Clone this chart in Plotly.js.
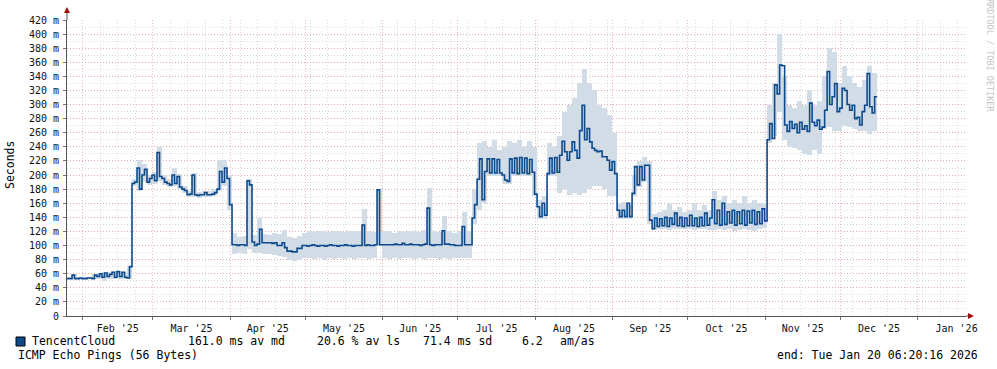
<!DOCTYPE html>
<html>
<head>
<meta charset="utf-8">
<script src="https://cdn.plot.ly/plotly-3.0.1.min.js"></script>
<style>html,body{margin:0;padding:0;background:#fff;}#chart{width:997px;height:369px;}</style>
</head>
<body>
<div id="chart"></div>
<script>
// ---- data ----
const rangeStart = '2025-01-25 17:17:00';
const rangeEnd = '2026-01-20 06:20:16';
const dataStart = '2025-01-25T17:17:00Z';   // first daily median step
const medianStepDays = 1;
const smokeStepDays = 2;

// daily median RTT (ms)
const medianMs = [
  53,53,58,53,53,54,53,53,54,54,
  53,58,56,60,55,61,56,59,62,55,
  63,56,62,55,54,70,188,190,210,180,
  200,208,190,195,200,192,232,198,195,190,
  188,186,200,188,198,183,180,178,172,173,
  200,172,171,172,172,175,172,172,173,175,
  180,205,190,210,195,158,101,101,100,101,
  101,100,192,186,105,100,102,123,104,104,
  104,104,103,104,100,100,104,97,92,92,
  91,91,96,96,100,100,99,100,101,100,
  99,100,100,99,100,101,100,100,99,100,
  100,101,100,100,99,100,100,100,129,100,
  101,100,100,101,179,101,101,101,101,101,
  101,102,101,101,103,101,101,102,101,101,
  101,100,101,102,153,101,100,101,101,101,
  121,102,102,101,101,100,100,100,127,101,
  101,101,139,158,194,223,165,205,223,203,
  223,203,222,203,200,193,191,223,203,224,
  202,225,203,224,202,222,204,173,155,141,
  160,143,202,224,203,225,204,228,248,233,
  221,233,247,235,224,263,299,250,266,247,
  238,235,233,234,226,226,221,207,219,202,
  150,141,150,141,160,141,174,212,186,212,
  193,214,214,136,124,139,127,138,128,140,
  127,139,130,146,128,140,127,139,128,143,
  128,139,127,140,128,146,129,139,165,131,
  150,129,160,130,148,132,150,129,148,131,
  150,129,149,132,150,130,148,131,152,135,
  250,273,252,328,315,356,355,271,262,276,
  266,272,260,275,265,270,262,302,275,270,
  278,265,268,292,347,300,311,330,290,295,
  323,320,300,292,299,280,282,271,290,299,
  344,297,288,311
];

// smoke band (2-day bins): lowest and highest ping (ms)
const smokeLowMs = [
  52,52,52,52,52,52,53,50,52,52,
  52,53,53,185,178,190,186,188,192,186,
  183,185,180,175,169,169,168,169,169,170,
  177,185,150,88,89,88,95,89,90,88,
  88,86,85,84,80,78,80,82,82,81,
  82,80,82,81,82,81,82,81,82,82,
  81,82,100,82,81,82,81,82,82,81,
  82,81,82,82,81,82,81,82,82,82,
  82,130,150,160,198,198,198,188,188,198,
  198,198,198,170,138,138,198,198,175,180,
  172,175,172,175,180,185,185,180,170,170,
  138,138,138,170,183,190,130,122,123,124,
  122,124,123,124,123,122,124,123,122,122,
  123,122,124,120,122,123,122,120,124,125,
  245,255,290,250,240,238,235,230,228,235,
  230,265,268,262,262,270,268,265,262,262,
  258,262
];
const smokeHighMs = [
  56,59,55,55,56,59,61,62,62,64,
  64,63,71,195,222,215,200,205,240,200,
  195,210,202,185,178,203,176,178,178,180,
  222,222,200,118,112,114,195,115,139,117,
  115,118,117,122,112,110,113,118,120,119,
  120,121,119,120,121,119,120,121,120,152,
  120,119,180,120,121,118,120,119,121,120,
  119,122,182,120,119,142,120,118,120,148,
  120,180,245,248,240,250,235,240,248,245,
  250,240,248,240,165,170,245,240,255,290,
  300,310,330,350,330,320,300,295,285,260,
  160,162,158,200,220,225,220,145,148,150,
  160,150,155,148,150,160,150,158,150,178,
  165,170,160,165,160,170,160,165,160,160,
  300,330,400,340,300,295,305,300,320,300,
  305,340,380,375,330,355,340,330,325,335,
  355,345
];

const yTickValues = [0,20,40,60,80,100,120,140,160,180,200,220,240,260,280,300,320,340,360,380,400,420];
const yTickLabels = yTickValues.map(v => v === 0 ? '0' : v + ' m');

const seriesName = 'TencentCloud';
const statValues = ['161.0 ms av md', '20.6 % av ls', '71.4 ms sd', '6.2', 'am/as'];
const footLeft = 'ICMP Echo Pings (56 Bytes)';
const footRight = 'end: Tue Jan 20 06:20:16 2026';

// ---- build ----
const DAY = 86400000;
const t0 = Date.parse(dataStart);
const fmt = t => new Date(t).toISOString().slice(0, 19).replace('T', ' ');

const medX = medianMs.map((_, i) => fmt(t0 + i * medianStepDays * DAY));
const medY = medianMs.slice();
// close the final step
medX.push(fmt(t0 + medianMs.length * medianStepDays * DAY));
medY.push(medianMs[medianMs.length - 1]);

const smokeX = smokeLowMs.map((_, i) => fmt(t0 + (i + 0.5) * smokeStepDays * DAY));
const smokeBase = smokeLowMs.slice();
const smokeH = smokeHighMs.map((h, i) => h - smokeLowMs[i]);

const FONT = 'DejaVu Sans Mono, monospace';
const lineColor = '#0c4a8c';
const smokeColor = '#d2dce7';

const traces = [
  {
    type: 'bar', x: smokeX, y: smokeH, base: smokeBase,
    width: smokeStepDays * DAY,
    marker: {color: smokeColor, line: {width: 0}},
    hoverinfo: 'skip', showlegend: false
  },
  {
    type: 'scatter', mode: 'lines', x: medX, y: medY,
    line: {shape: 'hv', color: lineColor, width: 1.6},
    hoverinfo: 'skip', showlegend: false
  }
];

const W = 899, H = 296, L = 67, T = 20;
const px = x => (x - L) / W;
const py = y => (T + H - y) / H;

function ann(text, x, y, opts) {
  return Object.assign({
    text: text, xref: 'paper', yref: 'paper', x: px(x), y: py(y),
    xanchor: 'left', yanchor: 'middle', showarrow: false,
    font: {family: FONT, size: 11.5, color: '#000'}
  }, opts || {});
}

const annotations = [
  ann(seriesName, 30, 341),
  ann(statValues[0], 186, 341),
  ann(statValues[1], 315, 341),
  ann(statValues[2], 420.7, 341),
  ann(statValues[3], 520, 341),
  ann(statValues[4], 558, 341),
  ann(footLeft, 16, 355),
  ann(footRight, 980, 355, {xanchor: 'right'}),
  ann('Seconds', 10, 165, {xanchor: 'center', textangle: -90}),
  ann('RRDTOOL / TOBI OETIKER', 990, 55, {xanchor: 'center', textangle: 90,
      font: {family: FONT, size: 8.5, color: '#c4c4c4'}})
];

const shapes = [
  {type: 'line', xref: 'paper', yref: 'paper', x0: 0, x1: 0, y0: 1, y1: py(12),
   line: {color: '#555', width: 1}},
  {type: 'path', xref: 'paper', yref: 'paper',
   path: `M ${px(64)},${py(13)} L ${px(70)},${py(13)} L ${px(67)},${py(7)} Z`,
   fillcolor: '#a01010', line: {width: 0}},
  {type: 'line', xref: 'paper', yref: 'paper', x0: 1, x1: px(970), y0: 0, y1: 0,
   line: {color: '#555', width: 1}},
  {type: 'path', xref: 'paper', yref: 'paper',
   path: `M ${px(968)},${py(313)} L ${px(968)},${py(319)} L ${px(974)},${py(316)} Z`,
   fillcolor: '#a01010', line: {width: 0}},
  {type: 'rect', xref: 'paper', yref: 'paper',
   x0: px(16), x1: px(25), y0: py(337), y1: py(346),
   fillcolor: lineColor, line: {color: '#000', width: 1}}
];

const majorGrid = 'rgba(228,120,120,0.5)';
const minorGrid = 'rgba(175,175,175,0.42)';

const layout = {
  width: 997, height: 369,
  margin: {l: L, r: 997 - L - W, t: T, b: 369 - T - H, pad: 0},
  paper_bgcolor: '#fff', plot_bgcolor: '#fff',
  showlegend: false, hovermode: false,
  bargap: 0,
  xaxis: {
    type: 'date', range: [rangeStart, rangeEnd], fixedrange: true,
    dtick: 'M1', tick0: '2025-01-01', tickformat: "%b '%y", ticklabelmode: 'period',
    showgrid: true, gridcolor: majorGrid, griddash: '1px,2px', gridwidth: 1,
    minor: {dtick: 7 * DAY, tick0: '2025-01-25', showgrid: true,
            gridcolor: minorGrid, griddash: '1px,2px', gridwidth: 1},
    ticks: 'outside', ticklen: 3, tickcolor: '#777',
    showline: true, linecolor: '#555', linewidth: 1, zeroline: false,
    tickfont: {family: FONT, size: 10, color: '#111'}
  },
  yaxis: {
    range: [0, 420], fixedrange: true,
    tickvals: yTickValues, ticktext: yTickLabels,
    showgrid: true, gridcolor: majorGrid, griddash: '1px,2px', gridwidth: 1,
    minor: {dtick: 10, tick0: 0, showgrid: true,
            gridcolor: minorGrid, griddash: '1px,2px', gridwidth: 1},
    ticks: 'outside', ticklen: 3, tickcolor: '#777', ticklabelstandoff: 2,
    showline: true, linecolor: '#555', linewidth: 1, zeroline: false,
    tickfont: {family: FONT, size: 10, color: '#111'}
  },
  annotations: annotations,
  shapes: shapes
};

Plotly.newPlot('chart', traces, layout, {displayModeBar: false, staticPlot: true});
</script>
</body>
</html>
